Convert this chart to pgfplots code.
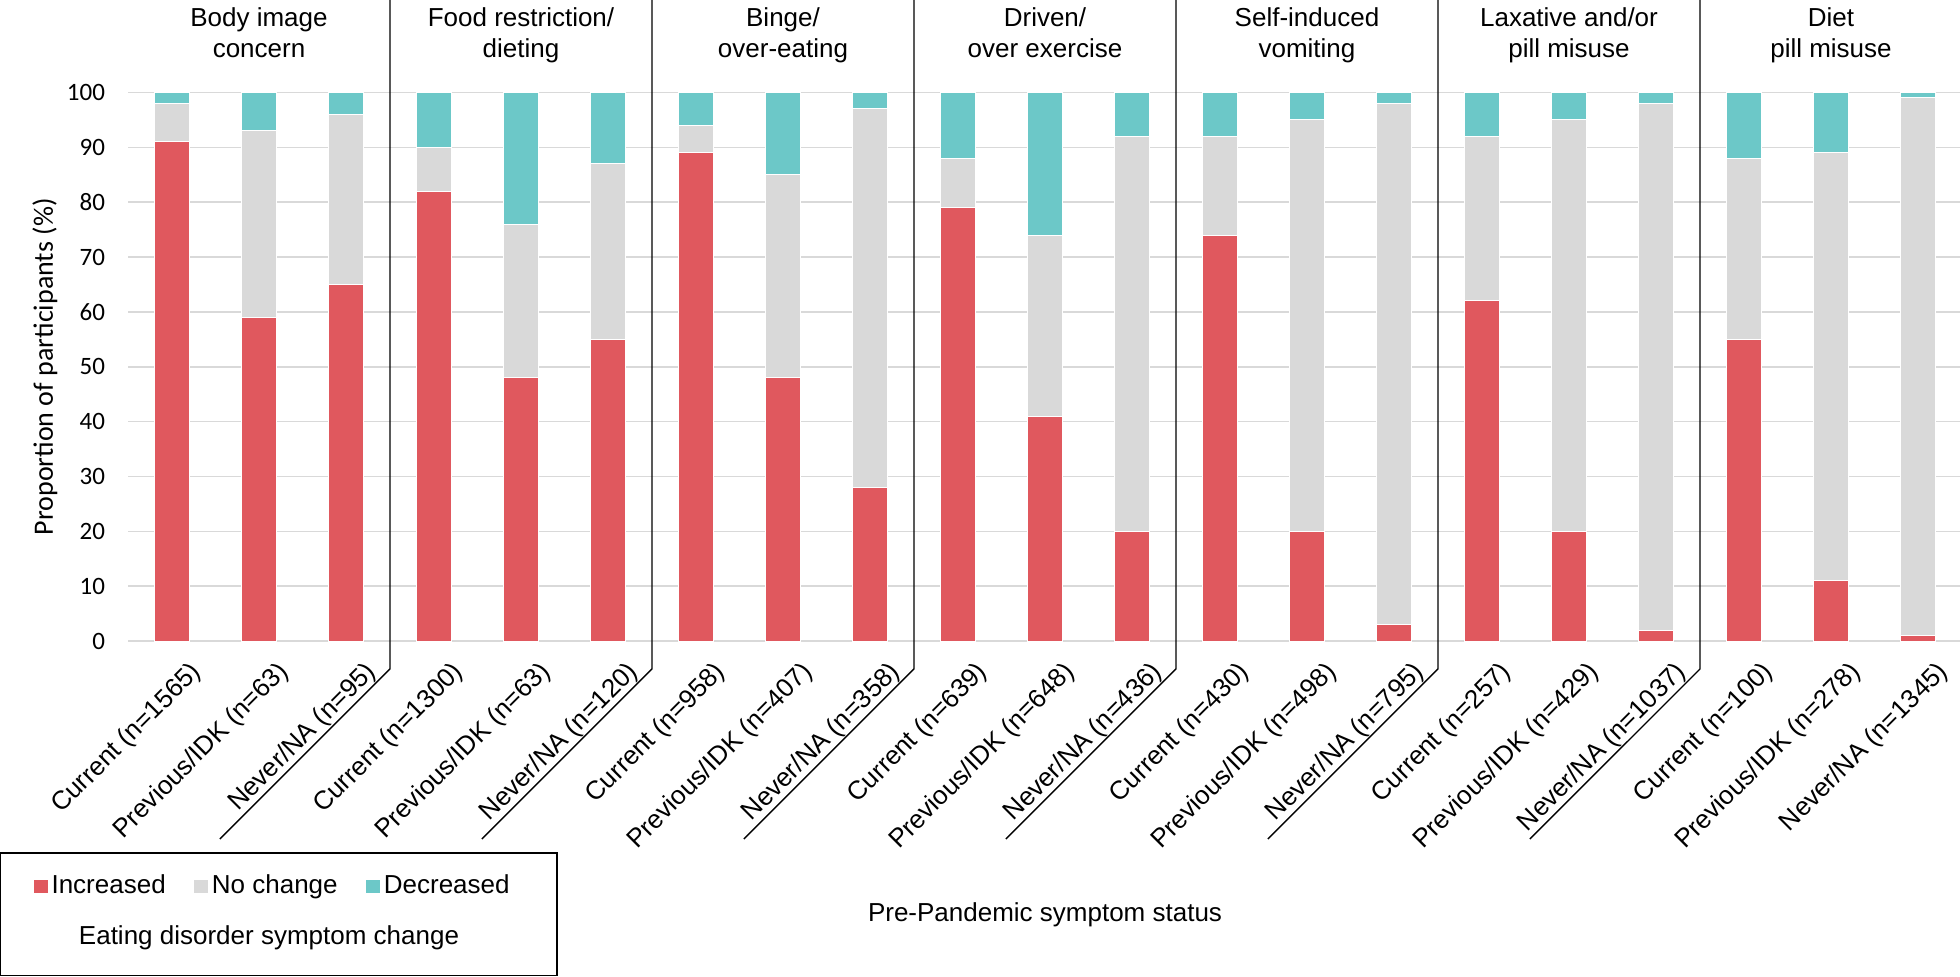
\documentclass[border=0pt]{standalone}
\usepackage{pgfplots}
\pgfplotsset{compat=1.18}
\usepackage{fontspec}
\setmainfont{Liberation Sans}
\newfontfamily\carlito{Carlito}
\definecolor{cinc}{HTML}{E0585E}
\definecolor{cnoc}{HTML}{D9D9D9}
\definecolor{cdec}{HTML}{6CC8C8}
\begin{document}
\begin{tikzpicture}
\useasboundingbox (0,0) rectangle (980pt,488pt);
\begin{axis}[
  at={(64pt,167.5pt)}, anchor=south west,
  scale only axis, width=917pt, height=274.25pt,
  xmin=-0.5, xmax=20.5, ymin=0, ymax=100,
  ybar stacked, bar width=17.5pt,
  clip=false,
  axis line style={draw=none},
  major tick length=0pt,
  ytick={0,10,...,100},
  ymajorgrids, grid style={cnoc, line width=0.8pt},
  /pgf/number format/assume math mode=true,
  yticklabel style={font=\carlito\fontsize{12.5}{15}\selectfont, xshift=-8pt},
  xtick={0,...,20},
  xticklabels={Current (n=1565), Previous/IDK (n=63), Never/NA (n=95),
    Current (n=1300), Previous/IDK (n=63), Never/NA (n=120),
    Current (n=958), Previous/IDK (n=407), Never/NA (n=358),
    Current (n=639), Previous/IDK (n=648), Never/NA (n=436),
    Current (n=430), Previous/IDK (n=498), Never/NA (n=795),
    Current (n=257), Previous/IDK (n=429), Never/NA (n=1037),
    Current (n=100), Previous/IDK (n=278), Never/NA (n=1345)},
  xticklabel style={font=\fontsize{13}{15}\selectfont, rotate=45, anchor=north east, inner sep=0pt, xshift=-0.5pt, yshift=-12.5pt},
  ylabel={Proportion of participants (\%)},
  ylabel style={font=\carlito\fontsize{14}{16}\selectfont, at={(axis description cs:-0.04526,0.5)}, anchor=center},
  xlabel={Pre-Pandemic symptom status},
  xlabel style={font=\fontsize{13}{15}\selectfont, at={(axis description cs:0.5,-0.4995)}, anchor=center},
  legend columns=3,
  legend style={at={(axis description cs:-0.0515,-0.4467)}, anchor=west, draw=none, fill=none, inner sep=0pt,
    font=\fontsize{13}{15}\selectfont, nodes={inner sep=1.8pt},
    /tikz/every even column/.append style={column sep=12.5pt}},
  legend image code/.code={\path[#1,draw=none] (0pt,-3.25pt) rectangle (7pt,3.25pt);},
]
\addplot[fill=cinc, draw=white, line width=0.5pt] coordinates {
(0,91) (1,59) (2,65) (3,82) (4,48) (5,55) (6,89) (7,48) (8,28) (9,79) (10,41)
(11,20) (12,74) (13,20) (14,3) (15,62) (16,20) (17,2) (18,55) (19,11) (20,1)};
\addplot[fill=cnoc, draw=white, line width=0.5pt] coordinates {
(0,7) (1,34) (2,31) (3,8) (4,28) (5,32) (6,5) (7,37) (8,69) (9,9) (10,33)
(11,72) (12,18) (13,75) (14,95) (15,30) (16,75) (17,96) (18,33) (19,78) (20,98)};
\addplot[fill=cdec, draw=white, line width=0.5pt] coordinates {
(0,2) (1,7) (2,4) (3,10) (4,24) (5,13) (6,6) (7,15) (8,3) (9,12) (10,26)
(11,8) (12,8) (13,5) (14,2) (15,8) (16,5) (17,2) (18,12) (19,11) (20,1)};
\legend{Increased, No change, Decreased}
% group titles
\node[anchor=base, inner sep=0pt, font=\fontsize{13}{15}\selectfont] at (axis cs:1,112.0) {Body image};
\node[anchor=base, inner sep=0pt, font=\fontsize{13}{15}\selectfont] at (axis cs:1,106.4) {concern};
\node[anchor=base, inner sep=0pt, font=\fontsize{13}{15}\selectfont] at (axis cs:4,112.0) {Food restriction/};
\node[anchor=base, inner sep=0pt, font=\fontsize{13}{15}\selectfont] at (axis cs:4,106.4) {dieting};
\node[anchor=base, inner sep=0pt, font=\fontsize{13}{15}\selectfont] at (axis cs:7,112.0) {Binge/};
\node[anchor=base, inner sep=0pt, font=\fontsize{13}{15}\selectfont] at (axis cs:7,106.4) {over-eating};
\node[anchor=base, inner sep=0pt, font=\fontsize{13}{15}\selectfont] at (axis cs:10,112.0) {Driven/};
\node[anchor=base, inner sep=0pt, font=\fontsize{13}{15}\selectfont] at (axis cs:10,106.4) {over exercise};
\node[anchor=base, inner sep=0pt, font=\fontsize{13}{15}\selectfont] at (axis cs:13,112.0) {Self-induced};
\node[anchor=base, inner sep=0pt, font=\fontsize{13}{15}\selectfont] at (axis cs:13,106.4) {vomiting};
\node[anchor=base, inner sep=0pt, font=\fontsize{13}{15}\selectfont] at (axis cs:16,112.0) {Laxative and/or};
\node[anchor=base, inner sep=0pt, font=\fontsize{13}{15}\selectfont] at (axis cs:16,106.4) {pill misuse};
\node[anchor=base, inner sep=0pt, font=\fontsize{13}{15}\selectfont] at (axis cs:19,112.0) {Diet};
\node[anchor=base, inner sep=0pt, font=\fontsize{13}{15}\selectfont] at (axis cs:19,106.4) {pill misuse};
% separators
\draw[black, line width=0.7pt] (axis cs:2.5,118) -- (axis cs:2.5,-5.1) -- (axis cs:0.553,-36.1);
\draw[black, line width=0.7pt] (axis cs:5.5,118) -- (axis cs:5.5,-5.1) -- (axis cs:3.553,-36.1);
\draw[black, line width=0.7pt] (axis cs:8.5,118) -- (axis cs:8.5,-5.1) -- (axis cs:6.553,-36.1);
\draw[black, line width=0.7pt] (axis cs:11.5,118) -- (axis cs:11.5,-5.1) -- (axis cs:9.553,-36.1);
\draw[black, line width=0.7pt] (axis cs:14.5,118) -- (axis cs:14.5,-5.1) -- (axis cs:12.553,-36.1);
\draw[black, line width=0.7pt] (axis cs:17.5,118) -- (axis cs:17.5,-5.1) -- (axis cs:15.553,-36.1);
\end{axis}
\draw[black, line width=0.7pt] (0.4pt,0.4pt) rectangle (278.5pt,61.5pt);
\node[anchor=base, inner sep=0pt, font=\fontsize{13}{15}\selectfont] at (134.5pt,16pt) {Eating disorder symptom change};
\end{tikzpicture}
\end{document}
